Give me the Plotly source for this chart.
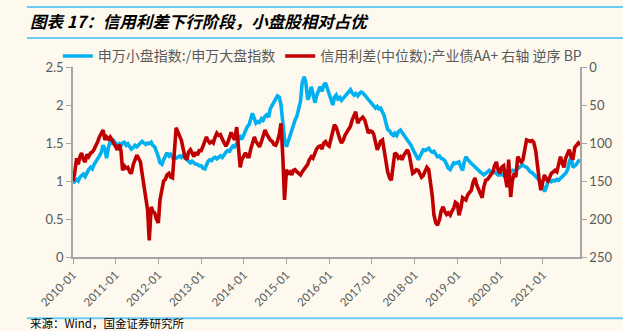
import pandas as pd
import plotly.graph_objects as go

# Semi-monthly observations, 2010-01 .. 2021-11
dates = pd.date_range("2010-01-01", periods=286, freq="SMS")

# 申万小盘指数 / 申万大盘指数 (left axis)
small_large_ratio = [
    # 2010
    0.97, 0.99, 1.02, 1.00, 1.05, 1.07, 1.09, 1.06, 1.12, 1.15, 1.18, 1.16,
    1.22, 1.25, 1.28, 1.33, 1.38, 1.47, 1.42, 1.30, 1.45, 1.52, 1.50, 1.53,
    # 2011
    1.50, 1.47, 1.49, 1.46, 1.50, 1.51, 1.47, 1.49, 1.45, 1.42, 1.44, 1.47,
    1.45, 1.48, 1.50, 1.52, 1.50, 1.48, 1.50, 1.49, 1.51, 1.47, 1.45, 1.40,
    # 2012
    1.32, 1.24, 1.22, 1.28, 1.34, 1.37, 1.33, 1.35, 1.31, 1.33, 1.30, 1.32,
    1.33, 1.31, 1.34, 1.30, 1.29, 1.26, 1.24, 1.26, 1.24, 1.22, 1.22, 1.20,
    # 2013
    1.20, 1.17, 1.16, 1.22, 1.26, 1.28, 1.27, 1.30, 1.31, 1.29, 1.32, 1.33,
    1.31, 1.35, 1.38, 1.40, 1.39, 1.43, 1.46, 1.45, 1.50, 1.54, 1.58, 1.55,
    # 2014
    1.62, 1.68, 1.72, 1.74, 1.80, 1.89, 1.82, 1.76, 1.78, 1.77, 1.82, 1.80,
    1.85, 1.87, 1.84, 1.95, 2.00, 2.03, 2.08, 2.12, 2.10, 2.00, 1.72, 1.55,
    # 2015
    1.45, 1.52, 1.62, 1.67, 1.72, 1.80, 1.86, 1.95, 2.05, 2.29, 2.37, 2.30,
    2.07, 2.12, 2.24, 2.15, 2.03, 2.12, 2.20, 2.24, 2.18, 2.26, 2.29, 2.22,
    # 2016
    2.16, 2.05, 2.00, 2.10, 2.13, 2.08, 2.10, 2.06, 2.09, 2.12, 2.15, 2.18,
    2.20, 2.16, 2.13, 2.15, 2.12, 2.15, 2.17, 2.16, 2.13, 2.10, 2.07, 2.04,
    # 2017
    2.02, 2.00, 1.96, 1.98, 1.95, 1.96, 1.90, 1.86, 1.76, 1.68, 1.66, 1.62,
    1.60, 1.63, 1.60, 1.65, 1.67, 1.64, 1.60, 1.58, 1.55, 1.50, 1.47, 1.42,
    # 2018
    1.38, 1.33, 1.28, 1.33, 1.37, 1.41, 1.40, 1.42, 1.43, 1.40, 1.38, 1.39,
    1.35, 1.32, 1.33, 1.30, 1.29, 1.27, 1.22, 1.17, 1.15, 1.20, 1.24, 1.23,
    # 2019
    1.24, 1.25, 1.18, 1.14, 1.25, 1.32, 1.28, 1.25, 1.23, 1.21, 1.18, 1.16,
    1.13, 1.12, 1.10, 1.08, 1.10, 1.12, 1.14, 1.12, 1.11, 1.12, 1.10, 1.08,
    # 2020
    1.08, 1.09, 1.07, 1.10, 1.12, 1.11, 1.13, 1.14, 1.13, 1.15, 1.17, 1.18,
    1.20, 1.21, 1.19, 1.18, 1.15, 1.12, 1.11, 1.09, 1.07, 1.04, 1.01, 0.98,
    # 2021
    0.93, 0.86, 0.92, 1.00, 1.01, 0.99, 1.01, 1.00, 1.02, 1.01, 1.03, 1.05,
    1.08, 1.10, 1.15, 1.25, 1.32, 1.18, 1.20, 1.22, 1.26, 1.28,
]

# 信用利差(中位数):产业债AA+, BP (right axis, reversed)
credit_spread_bp = [
    # 2010
    150, 140, 120, 128, 118, 113, 122, 125, 115, 118, 113, 112,
    108, 104, 98, 92, 86, 83, 96, 92, 95, 92, 96, 100,
    # 2011
    105, 109, 102, 110, 136, 130, 133, 132, 138, 140, 128, 122,
    116, 120, 125, 140, 160, 170, 188, 228, 184, 190, 192, 200,
    # 2012
    205, 175, 160, 150, 148, 142, 140, 145, 146, 120, 80, 85,
    92, 96, 108, 118, 122, 112, 109, 114, 118, 112, 116, 110,
    # 2013
    110, 105, 98, 92, 97, 100, 98, 100, 92, 87, 90, 89,
    95, 100, 104, 100, 92, 86, 92, 96, 79, 110, 132, 122,
    # 2014
    116, 113, 118, 118, 108, 100, 92, 98, 102, 105, 98, 90,
    83, 88, 94, 96, 98, 102, 103, 98, 88, 74, 120, 175,
    # 2015
    135, 140, 138, 142, 136, 135, 138, 140, 142, 138, 134, 130,
    128, 122, 118, 120, 112, 108, 105, 104, 108, 100, 98, 102,
    # 2016
    104, 95, 84, 76, 79, 88, 95, 100, 96, 90, 86, 83,
    78, 70, 62, 59, 74, 70, 68, 66, 70, 78, 87, 84,
    # 2017
    85, 88, 98, 109, 104, 98, 96, 112, 128, 138, 146, 149,
    130, 113, 115, 120, 118, 122, 116, 112, 109, 115, 128, 140,
    # 2018
    138, 135, 136, 142, 145, 143, 138, 132, 135, 150, 170, 195,
    205, 208, 201, 190, 184, 190, 194, 192, 195, 190, 186, 178,
    # 2019
    180, 195, 185, 172, 174, 175, 168, 165, 162, 152, 146, 155,
    162, 168, 172, 158, 149, 148, 145, 142, 138, 130, 125, 135,
    # 2020
    140, 132, 130, 145, 158, 122, 171, 150, 140, 145, 118, 122,
    125, 122, 110, 96, 97, 98, 97, 99, 110, 132, 148, 162,
    # 2021
    150, 142, 148, 150, 145, 140, 138, 136, 138, 128, 118, 126,
    132, 120, 112, 109, 118, 122, 106, 104, 100, 103,
]

year_ticks = pd.date_range("2010-01-01", "2021-01-01", freq="YS")
year_labels = [d.strftime("%Y-%m") for d in year_ticks]

left_ticks = [0, 0.5, 1, 1.5, 2, 2.5]
left_labels = ["0", "0.5", "1", "1.5", "2", "2.5"]
right_ticks = [0, 50, 100, 150, 200, 250]

ratio_name = "申万小盘指数:/申万大盘指数"
spread_name = "信用利差(中位数):产业债AA+ 右轴 逆序 BP"
title_text = "图表 17：信用利差下行阶段，小盘股相对占优"
source_text = "来源：Wind，国金证券研究所"

BG = "#FDF9EF"
GRAY = "#595959"
AXIS = "#A6A6A6"
RULE = "#6CCBF2"
CJK = "Noto Sans CJK SC"

fig = go.Figure()
fig.add_trace(go.Scatter(
    x=dates, y=small_large_ratio, name=ratio_name, mode="lines",
    line=dict(color="#00B0F0", width=3.6), yaxis="y",
))
fig.add_trace(go.Scatter(
    x=dates, y=credit_spread_bp, name=spread_name, mode="lines",
    line=dict(color="#C00000", width=3.6), yaxis="y2",
))

fig.update_layout(
    width=623, height=331,
    margin=dict(l=73, r=43, t=67, b=74),
    paper_bgcolor=BG, plot_bgcolor=BG,
    font=dict(family=CJK, color=GRAY, size=12),
    showlegend=True,
    legend=dict(
        orientation="h", x=-0.03, y=1.14, xanchor="left", yanchor="top",
        font=dict(family=CJK, size=14, color=GRAY),
        bgcolor="rgba(0,0,0,0)", itemwidth=30, tracegroupgap=0,
        traceorder="normal",
    ),
    xaxis=dict(
        type="date", range=["2010-01-01", "2021-11-15"],
        tickvals=year_ticks, ticktext=year_labels, tickangle=-45,
        showgrid=False, zeroline=False,
        showline=True, linecolor=AXIS, linewidth=1.5,
        ticks="outside", ticklen=5, tickcolor=AXIS,
        tickfont=dict(family="Lato", size=11.5, color=GRAY),
    ),
    yaxis=dict(
        range=[0, 2.5], tickvals=left_ticks, ticktext=left_labels,
        showgrid=False, zeroline=False,
        showline=True, linecolor=AXIS, linewidth=1.5,
        ticks="outside", ticklen=5, tickcolor=AXIS,
        tickfont=dict(family="Lato", size=13, color=GRAY),
    ),
    yaxis2=dict(
        range=[250, 0], tickvals=right_ticks, overlaying="y", side="right",
        showgrid=False, zeroline=False,
        showline=True, linecolor=AXIS, linewidth=1.5,
        ticks="outside", ticklen=5, tickcolor=AXIS,
        tickfont=dict(family="Lato", size=13, color=GRAY),
    ),
)

# header / footer rules
for yp in (1.316, 1.153, -0.322):
    fig.add_shape(type="line", xref="paper", yref="paper",
                  x0=-0.091, x1=1.085, y0=yp, y1=yp,
                  line=dict(color=RULE, width=2))

fig.add_annotation(
    text="<b><i>" + title_text + "</i></b>", xref="paper", yref="paper",
    x=-0.089, y=1.24, xanchor="left", yanchor="middle", showarrow=False,
    font=dict(family=CJK, size=16.5, color="#000000"),
)
fig.add_annotation(
    text=source_text, xref="paper", yref="paper",
    x=-0.089, y=-0.348, xanchor="left", yanchor="middle", showarrow=False,
    font=dict(family=CJK, size=11.5, color="#000000"),
)

fig.write_html("out.html")
